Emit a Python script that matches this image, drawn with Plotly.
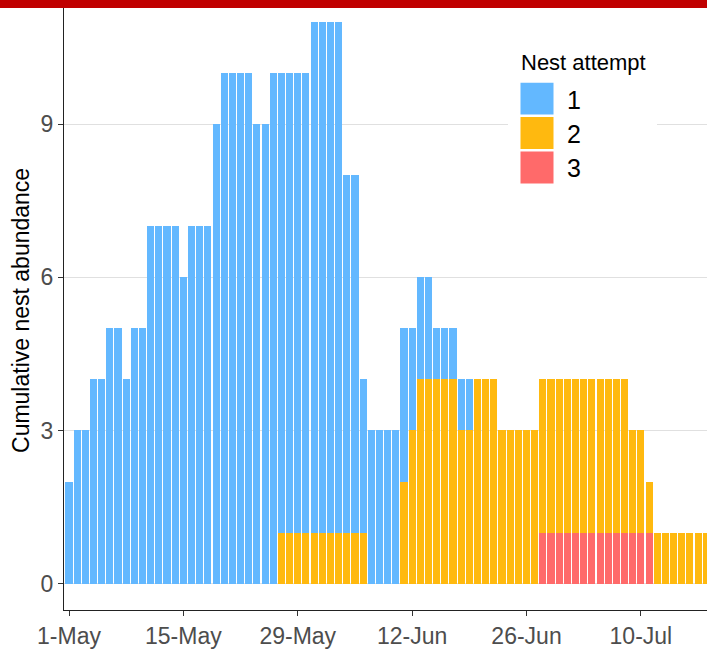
import pandas as pd
import plotly.graph_objects as go

# Daily nest counts by attempt number, starting 1 May
start_date = "2019-05-01"
attempt_1 = [
    2, 3, 3, 4, 4, 5, 5,
    4, 5, 5, 7, 7, 7, 7,
    6, 7, 7, 7, 9, 10, 10,
    10, 10, 9, 9, 10, 9, 9,
    9, 9, 10, 10, 10, 10, 7,
    7, 3, 3, 3, 3, 3, 3,
    2, 2, 2, 1, 1, 1, 1,
    1, 0, 0, 0, 0, 0, 0,
    0, 0, 0, 0, 0, 0, 0,
    0, 0, 0, 0, 0, 0, 0,
    0, 0, 0, 0, 0, 0, 0,
    0, 0,
]
attempt_2 = [
    0, 0, 0, 0, 0, 0, 0,
    0, 0, 0, 0, 0, 0, 0,
    0, 0, 0, 0, 0, 0, 0,
    0, 0, 0, 0, 0, 1, 1,
    1, 1, 1, 1, 1, 1, 1,
    1, 1, 0, 0, 0, 0, 2,
    3, 4, 4, 4, 4, 4, 3,
    3, 4, 4, 4, 3, 3, 3,
    3, 3, 3, 3, 3, 3, 3,
    3, 3, 3, 3, 3, 3, 2,
    2, 1, 1, 1, 1, 1, 1,
    1, 1,
]
attempt_3 = [
    0, 0, 0, 0, 0, 0, 0,
    0, 0, 0, 0, 0, 0, 0,
    0, 0, 0, 0, 0, 0, 0,
    0, 0, 0, 0, 0, 0, 0,
    0, 0, 0, 0, 0, 0, 0,
    0, 0, 0, 0, 0, 0, 0,
    0, 0, 0, 0, 0, 0, 0,
    0, 0, 0, 0, 0, 0, 0,
    0, 0, 1, 1, 1, 1, 1,
    1, 1, 1, 1, 1, 1, 1,
    1, 1, 0, 0, 0, 0, 0,
    0, 0,
]
attempt_names = ["1", "2", "3"]
attempt_colors = ["#63B8FF", "#FFB90F", "#FF6A6A"]
y_ticks = [0, 3, 6, 9]

dates = pd.date_range(start_date, periods=len(attempt_1), freq="D")

# Figure geometry (pixels)
W, H = 707, 649
ML, MR, MT, MB = 64, 0, 0, 37
PW, PH = W - ML - MR, H - MT - MB
px_per_day = 8.17
first_center_px = 69.0


def px_x(p):
    return (p - ML) / PW


def px_y(p):
    return 1 - (p - MT) / PH


x_start = pd.Timestamp(start_date) - pd.Timedelta(days=(first_center_px - ML) / px_per_day)
x_end = x_start + pd.Timedelta(days=PW / px_per_day)

FONT = "Liberation Sans, Arial, sans-serif"

fig = go.Figure()
# stack order: attempt 3 at the bottom, attempt 1 on top
for name, color, vals in reversed(list(zip(attempt_names, attempt_colors,
                                            [attempt_1, attempt_2, attempt_3]))):
    fig.add_trace(go.Bar(
        x=dates, y=vals, name=name,
        marker=dict(color=color, line=dict(width=0)),
        showlegend=False,
    ))

fig.update_layout(
    width=W, height=H,
    margin=dict(l=ML, r=MR, t=MT, b=MB, pad=0),
    barmode="stack",
    bargap=0.13,
    plot_bgcolor="white",
    paper_bgcolor="white",
    font=dict(family=FONT, size=23, color="#4D4D4D"),
    xaxis=dict(
        type="date",
        range=[x_start, x_end],
        tick0=start_date,
        dtick=14 * 86400000,
        tickformat="%-d-%b",
        ticks="outside", ticklen=5, tickwidth=1.2, tickcolor="#333333",
        showline=True, linecolor="#222222", linewidth=1.3,
        showgrid=False, zeroline=False,
        tickfont=dict(size=23, color="#4D4D4D"),
    ),
    yaxis=dict(
        range=[-(612 - 585.5) / 51.2, 585.5 / 51.2],
        tickvals=y_ticks,
        ticks="outside", ticklen=5, tickwidth=1.2, tickcolor="#333333",
        showline=True, linecolor="#222222", linewidth=1.3,
        showgrid=True, gridcolor="#E0E0E0", gridwidth=1,
        zeroline=False,
        tickfont=dict(size=23, color="#4D4D4D"),
    ),
)

shapes = []
annotations = []

# y-axis title
annotations.append(dict(
    text="Cumulative nest abundance", textangle=-90,
    xref="paper", yref="paper", x=px_x(21), y=px_y(312),
    xanchor="center", yanchor="middle", showarrow=False,
    font=dict(family=FONT, size=23, color="#000000"),
))

# legend panel
shapes.append(dict(type="rect", xref="paper", yref="paper",
                   x0=px_x(508), x1=px_x(657), y0=px_y(195), y1=px_y(38),
                   fillcolor="white", line=dict(width=0), layer="above"))
annotations.append(dict(
    text="Nest attempt", xref="paper", yref="paper",
    x=px_x(519), y=px_y(63), xanchor="left", yanchor="middle", showarrow=False,
    font=dict(family=FONT, size=22, color="#000000"),
))
key_tops = [83, 117.5, 152]
for name, color, top in zip(attempt_names, attempt_colors, key_tops):
    shapes.append(dict(type="rect", xref="paper", yref="paper",
                       x0=px_x(520.5), x1=px_x(553.5), y0=px_y(top + 32), y1=px_y(top),
                       fillcolor=color, line=dict(width=0), layer="above"))
    annotations.append(dict(
        text=name, xref="paper", yref="paper",
        x=px_x(565), y=px_y(top + 17), xanchor="left", yanchor="middle",
        showarrow=False, font=dict(family=FONT, size=25, color="#000000"),
    ))

# banner strip across the top edge
shapes.append(dict(type="rect", xref="paper", yref="paper",
                   x0=-0.2, x1=1.05, y0=px_y(8), y1=px_y(-5),
                   fillcolor="#C00000", line=dict(width=0), layer="above"))

fig.update_layout(shapes=shapes, annotations=annotations)
fig.write_html("out.html")
